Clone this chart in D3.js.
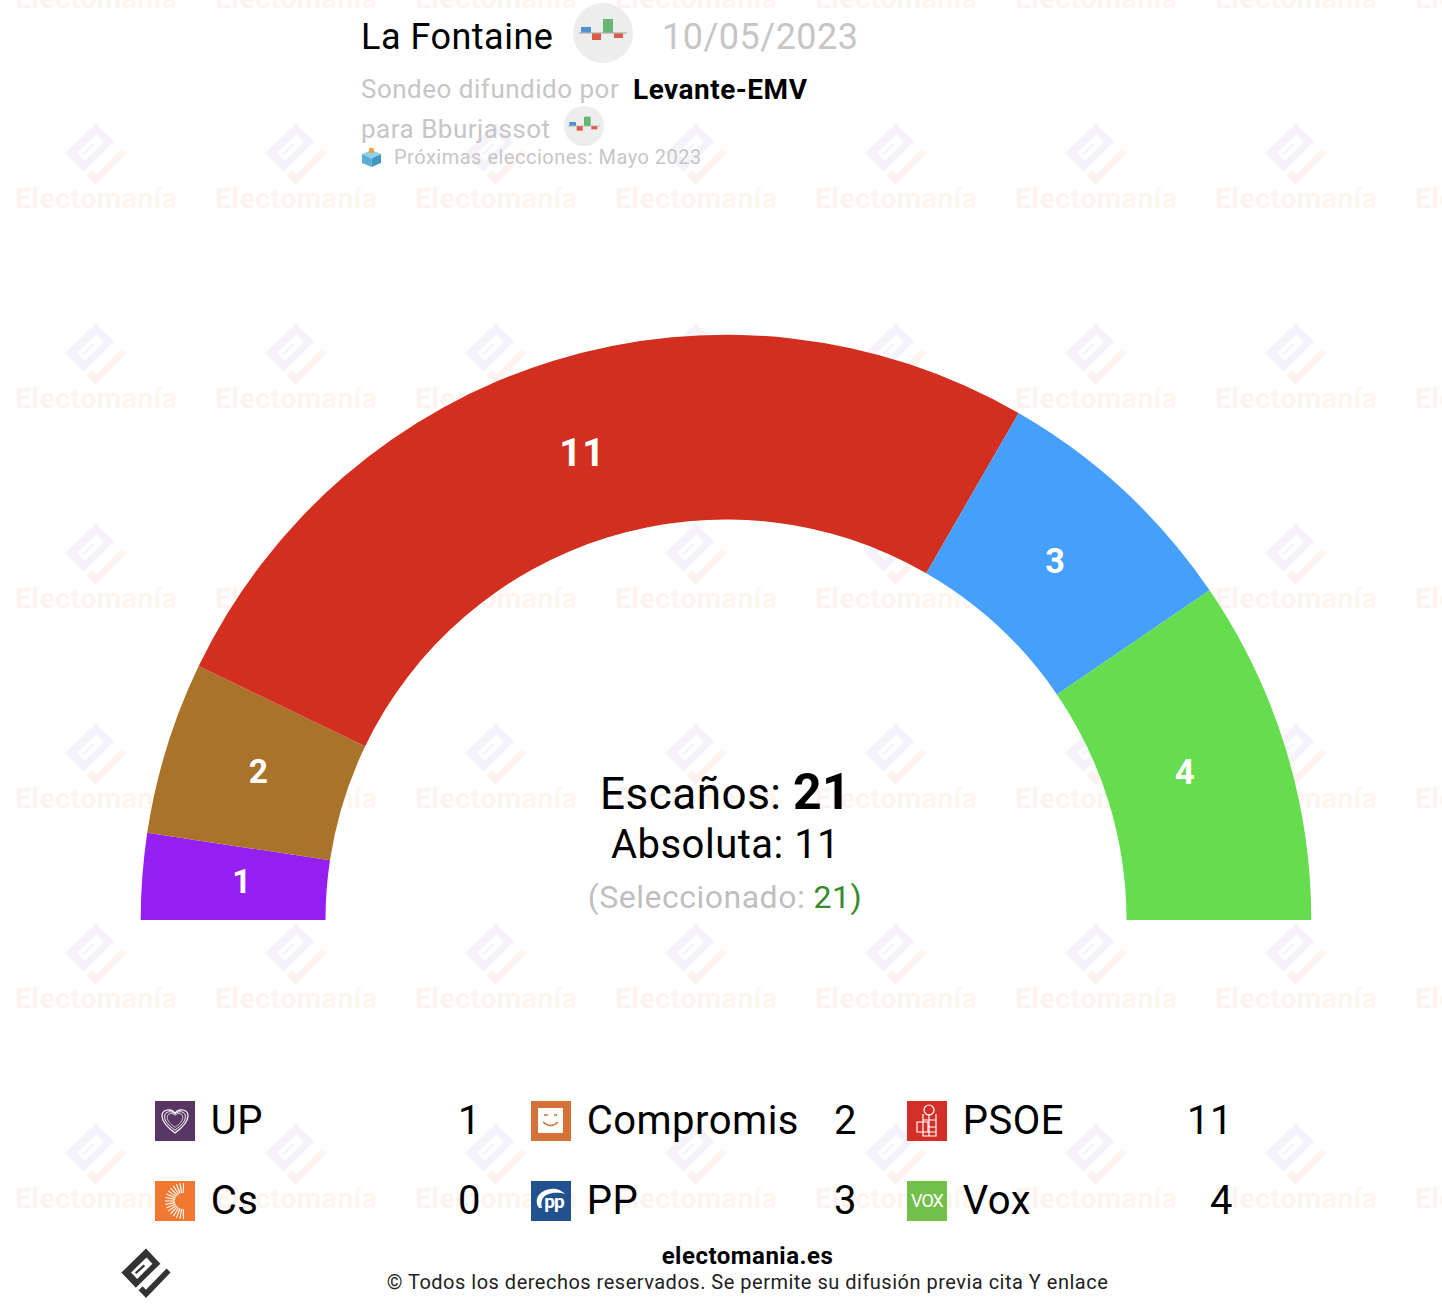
<!DOCTYPE html>
<html><head><meta charset="utf-8">
<script src="https://cdnjs.cloudflare.com/ajax/libs/d3/7.8.5/d3.min.js"></script>
<style>html,body{margin:0;padding:0;background:#fff}svg{display:block}text{font-family:Roboto,sans-serif;letter-spacing:.5px}</style>
</head><body><div id="c"></div>
<script>
const parties=["UP","Cs","Compromis","PP","PSOE","Vox"];
const seats=[1,0,2,3,11,4];
const arcOrder=["UP","Compromis","PSOE","PP","Vox"];
const arcColors=["#951ff0","#a9742a","#d32f20","#469ffa","#66dc4f"];
const iconColors=["#573663","#f07830","#d47238","#21528f","#d32f26","#73bf4b"];
const totalSeats=21, majority=11, selected=21;
const W=1442,H=1312;
const svg=d3.select("#c").append("svg").attr("width",W).attr("height",H);
const defs=svg.append("defs");

const g1=defs.append("linearGradient").attr("id","wmg").attr("x1",0).attr("x2",1);
g1.append("stop").attr("offset",0).attr("stop-color","#fdf2f1");
g1.append("stop").attr("offset",1).attr("stop-color","#fef6ed");
const g2=defs.append("linearGradient").attr("id","wmt").attr("x1",0).attr("y1",1).attr("x2",1).attr("y2",0);
g2.append("stop").attr("offset",0).attr("stop-color","#fcf1f1");
g2.append("stop").attr("offset",1).attr("stop-color","#fdf6ee");
const logoBody=[[0,0],[18,19],[-12.7,49],[-30.7,30]];
const logoHole=[[0.7,11.3],[8,19],[-11,38],[-18.7,30]];
const logoSliver=[[-3,20],[-1,22],[-12,32],[-14,30]];
const logoTail=[[25.7,25],[30.7,30],[0,62],[-9.3,52.3],[-4.3,47.3],[0,51.7]];
const p=a=>"M"+a.map(d=>d.join(",")).join("L")+"Z";
const pat=defs.append("pattern").attr("id","wm").attr("patternUnits","userSpaceOnUse").attr("width",200).attr("height",200);
const wl=pat.append("g").attr("transform","translate(96,123)");
wl.append("path").attr("fill-rule","evenodd").attr("d",p(logoBody)+p(logoHole)).attr("fill","#f6f2fa");
wl.append("path").attr("d",p(logoSliver)).attr("fill","#f6f2fa");
wl.append("path").attr("d",p(logoTail)).attr("fill","url(#wmt)");
[8,208].forEach(y=>pat.append("text").attr("x",15).attr("y",y).attr("font-size",28.3).attr("font-weight",700).attr("fill","url(#wmg)").text("Electomanía"));
svg.append("rect").attr("width",W).attr("height",H).attr("fill","url(#wm)");

// hemicycle
const cx=726,cy=920,ro=585.3,ri=400.5;
const angle=d3.scaleLinear().domain([0,totalSeats]).range([-Math.PI/2,Math.PI/2]);
const vals=arcOrder.map(n=>seats[parties.indexOf(n)]);
const cum=d3.cumsum(vals);
const arc=d3.arc().innerRadius(ri).outerRadius(ro);
const slices=arcOrder.map((n,i)=>({name:n,v:vals[i],startAngle:angle(cum[i]-vals[i]),endAngle:angle(cum[i]),color:arcColors[i]}));
const labelNudge=[[7.5,-2],[3.5,-4],[1.5,3],[-6,2],[-12,-3]];
const gA=svg.append("g").attr("transform",`translate(${cx},${cy})`);
gA.selectAll("path").data(slices).join("path").attr("d",arc).attr("fill",d=>d.color);
const fs=d3.scaleLinear().domain([1,11]).range([33,39]);
gA.selectAll("text").data(slices).join("text").attr("text-anchor","middle").attr("font-weight",700).attr("fill","#fff")
 .attr("font-size",d=>fs(d.v))
 .attr("x",(d,i)=>arc.centroid(d)[0]+labelNudge[i][0]).attr("y",(d,i)=>arc.centroid(d)[1]+fs(d.v)*0.36+labelNudge[i][1]).text(d=>d.v);

// centre
const ct=svg.append("g").attr("text-anchor","middle");
const t1=ct.append("text").attr("x",725.7).attr("y",808.5).attr("font-size",44);
t1.append("tspan").text("Escaños: ");
t1.append("tspan").attr("font-weight",700).attr("font-size",50).text(totalSeats);
ct.append("text").attr("x",725.5).attr("y",858).attr("font-size",40).text("Absoluta: "+majority);
const t3=ct.append("text").attr("x",725).attr("y",908).attr("font-size",32).attr("fill","#bfbfbf");
t3.append("tspan").text("(Seleccionado: ");
t3.append("tspan").attr("fill","#388a2b").text(selected+")");

// header
const gray="#c6c6c6";
const tx=(x,y,s,size,fill,w)=>svg.append("text").attr("x",x).attr("y",y).attr("font-size",size).attr("fill",fill).attr("font-weight",w||400).text(s);
tx(361,49,"La Fontaine",36,"#000");
tx(662,49,"10/05/2023",36,gray);
tx(361,98,"Sondeo difundido por",26,gray);
tx(633,99,"Levante-EMV",28,"#000",700);
tx(361,138,"para Bburjassot",26,gray);
tx(394,164,"Próximas elecciones: Mayo 2023",20,gray);
function chartIcon(x,y,r){
 const g=svg.append("g").attr("transform",`translate(${x},${y}) scale(${r/30})`);
 g.append("circle").attr("r",30).attr("fill","#eeeded");
 [[-22,-6,10,6,"#4f93d2"],[-11,0,9,7,"#dd5a46"],[0,-14,10,14,"#68b673"],[11,0,9,5,"#dd5a46"]].forEach(b=>
  g.append("rect").attr("x",b[0]).attr("y",b[1]).attr("width",b[2]).attr("height",b[3]).attr("fill",b[4]));
 g.append("rect").attr("x",-24).attr("y",-.6).attr("width",48).attr("height",1.2).attr("fill","#b0b0b0");
}
chartIcon(603,33,30);chartIcon(584,126,20);
const box=svg.append("g").attr("transform","translate(371.5,158)");
box.append("path").attr("d","M-9.5,-4L0,-8L9.5,-4L0,0.5Z").attr("fill","#8fd0ea");
box.append("path").attr("d","M-9.5,-4L0,0.5V9L-9.5,5Z").attr("fill","#5aaed6");
box.append("path").attr("d","M9.5,-4L0,0.5V9L9.5,5Z").attr("fill","#3f96c4");
box.append("rect").attr("x",-2.5).attr("y",-10).attr("width",5).attr("height",5).attr("rx",1).attr("fill","#eea33a");

// legend
const colX=[155,531,907],rowY=[1101,1181],valX=[481,857,1233];
const legend=svg.append("g").selectAll("g").data(parties).join("g")
 .attr("transform",(d,i)=>`translate(${colX[Math.floor(i/2)]},${rowY[i%2]})`);
legend.append("rect").attr("width",40).attr("height",40).attr("fill",(d,i)=>iconColors[i]);
legend.append("text").attr("x",55.7).attr("y",33).attr("font-size",40).text(d=>d);
legend.append("text").attr("x",(d,i)=>valX[Math.floor(i/2)]-colX[Math.floor(i/2)]).attr("y",33).attr("text-anchor","end").attr("font-size",40).text((d,i)=>seats[i]);
const icon=n=>legend.filter(d=>d===n).append("g").attr("fill","none").attr("stroke","#fff");
const heart="M20,32C12,26 7,21 7,15C7,8 16,7 20,12C24,7 33,8 33,15C33,21 28,26 20,32Z";
icon("UP").attr("stroke-width",1.2).selectAll("path").data([1,.8,.6]).join("path").attr("d",heart)
 .attr("transform",d=>`translate(${20*(1-d)},${18*(1-d)}) scale(${d})`);
const gCs=icon("Cs").attr("stroke-width",1.1);
gCs.selectAll("line").data(d3.range(-8,9)).join("line")
 .attr("x1",i=>28-8*Math.cos(i*.2)).attr("y1",i=>20+8*Math.sin(i*.2))
 .attr("x2",i=>28-18*Math.cos(i*.2)).attr("y2",i=>20+18*Math.sin(i*.2));
legend.filter(d=>d==="Compromis").append("rect").attr("x",7).attr("y",7).attr("width",25).attr("height",25).attr("rx",1).attr("fill","#fff");
const gC=icon("Compromis").attr("stroke","#d47238").attr("stroke-width",1.6);
gC.append("path").attr("d","M12,21Q20,28 27,21");
gC.append("path").attr("d","M13,14h4M23,14h3");
const gPP=legend.filter(d=>d==="PP").append("g");
gPP.append("path").attr("d","M8,27C2,18 9,9 20,8C26,7 31,10 34,13C28,11 16,11 12,17C10,20 10,24 11,27Z").attr("fill","#fff");
gPP.append("text").attr("x",23).attr("y",27).attr("text-anchor","middle").attr("font-size",19).attr("font-weight",700).style("letter-spacing","-1px").attr("fill","#fff").text("pp");
const gPS=icon("PSOE").attr("stroke-width",1.2);
gPS.append("circle").attr("cx",22).attr("cy",9).attr("r",5);
gPS.append("path").attr("d","M16,13V35H29V13M16,19H29M22,13V35");
gPS.append("path").attr("d","M10,21H21V31H10ZM21,26H29M21,31H29");
legend.filter(d=>d==="Vox").append("text").attr("x",20).attr("y",26).attr("text-anchor","middle").attr("font-size",18).attr("font-weight",400).style("letter-spacing","-1px").attr("fill","#fff").text("VOX");

// footer
svg.append("text").attr("x",747.5).attr("y",1264).attr("text-anchor","middle").attr("font-size",24).attr("font-weight",700).text("electomania.es");
svg.append("text").attr("x",747.5).attr("y",1289).attr("text-anchor","middle").attr("font-size",20).attr("fill","#222").text("© Todos los derechos reservados. Se permite su difusión previa cita Y enlace");
const fl=svg.append("g").attr("transform","translate(146,1248.5) scale(.8)").attr("fill","#333");
fl.append("path").attr("fill-rule","evenodd").attr("d",p(logoBody)+p(logoHole));
fl.append("path").attr("d",p(logoSliver));
fl.append("path").attr("d",p(logoTail));
</script></body></html>
